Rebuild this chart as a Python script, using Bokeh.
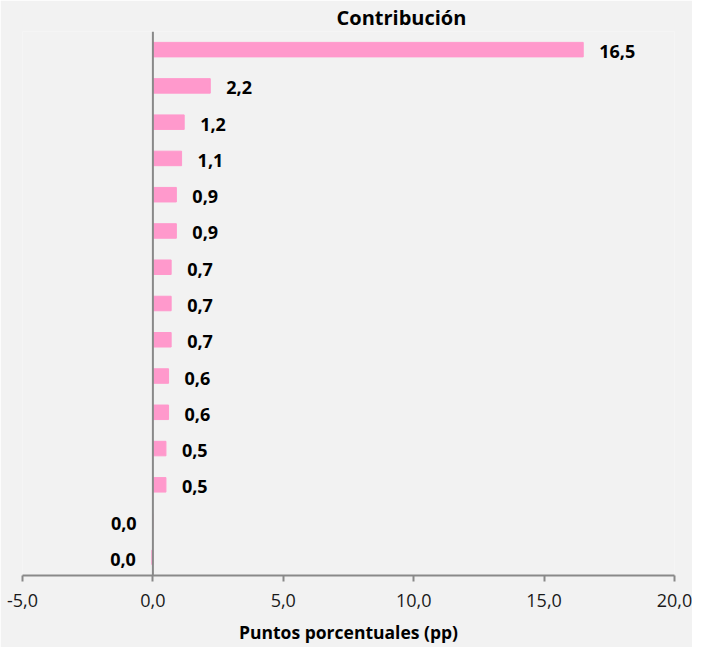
from bokeh.plotting import figure
from bokeh.models import ColumnDataSource, Span, CustomJSTickFormatter, FixedTicker, Range1d
from bokeh.embed import file_html
from bokeh.resources import INLINE
from bokeh.core.properties import value

# ---- data ----
valores = [16.5, 2.2, 1.2, 1.1, 0.9, 0.9, 0.7, 0.7, 0.7, 0.6, 0.6, 0.5, 0.5, -0.01, -0.04]
posiciones = list(range(len(valores)))          # 0 = top row
ticks_x = [-5, 0, 5, 10, 15, 20]
titulo = "Contribución"
etiqueta_x = "Puntos porcentuales (pp)"

FONT = "Open Sans"
PINK = "#FF99CC"
GRAY = "#898989"
BG = "#F2F2F2"

def fmt(v):
    return f"{round(v, 1) + 0.0:.1f}".replace(".", ",")

etiquetas = [fmt(v) for v in valores]

src = ColumnDataSource(dict(pos=posiciones, val=valores, lab=etiquetas))
pos_idx = [i for i, v in enumerate(valores) if v >= 0]
neg_idx = [i for i, v in enumerate(valores) if v < 0]
src_pos = ColumnDataSource(dict(pos=[posiciones[i] for i in pos_idx],
                                val=[valores[i] for i in pos_idx],
                                lab=[etiquetas[i] for i in pos_idx]))
src_neg = ColumnDataSource(dict(pos=[posiciones[i] for i in neg_idx],
                                val=[valores[i] for i in neg_idx],
                                lab=[etiquetas[i] for i in neg_idx]))

p = figure(width=692, height=647,
           x_range=Range1d(ticks_x[0], ticks_x[-1]),
           y_range=Range1d(len(valores) - 0.5, -0.5),
           output_backend="svg", toolbar_location=None,
           y_axis_location=None,
           min_border_left=22, min_border_right=18,
           min_border_top=21, min_border_bottom=72,
           background_fill_color=BG, border_fill_color=BG,
           outline_line_color=None)
p.grid.visible = False

p.title.text = titulo
p.title.align = "left"
p.title.offset = 314
p.title.standoff = 2
p.title.text_font = FONT
p.title.text_font_style = "bold"
p.title.text_font_size = "20px"
p.title.text_color = "#000000"

p.hbar(y="pos", left=0, right="val", height=0.4, source=src,
       fill_color=PINK, line_color=PINK)

p.add_layout(Span(location=0, dimension="height", line_color=GRAY, line_width=2))

p.text(x="val", y="pos", text="lab", source=src_pos, x_offset=16, y_offset=2,
       text_align="left", text_baseline="middle",
       text_font=value(FONT), text_font_style="bold", text_font_size="18px",
       text_color="#000000")
p.text(x="val", y="pos", text="lab", source=src_neg, x_offset=-16, y_offset=2,
       text_align="right", text_baseline="middle",
       text_font=value(FONT), text_font_style="bold", text_font_size="18px",
       text_color="#000000")

ax = p.xaxis[0]
ax.ticker = FixedTicker(ticks=ticks_x)
ax.formatter = CustomJSTickFormatter(code="return tick.toFixed(1).replace('.', ',');")
ax.axis_line_color = GRAY
ax.axis_line_width = 2
ax.major_tick_line_color = GRAY
ax.major_tick_line_width = 2
ax.major_tick_out = 6
ax.major_tick_in = 0
ax.minor_tick_line_color = None
ax.major_label_standoff = 12
ax.major_label_text_font = FONT
ax.major_label_text_font_size = "18px"
ax.major_label_text_color = "#1a1a1a"
ax.axis_label = etiqueta_x
ax.axis_label_standoff = 10
ax.axis_label_text_font = FONT
ax.axis_label_text_font_style = "bold"
ax.axis_label_text_font_size = "17.5px"
ax.axis_label_text_color = "#000000"

open("out.html", "w").write(file_html(p, INLINE))
